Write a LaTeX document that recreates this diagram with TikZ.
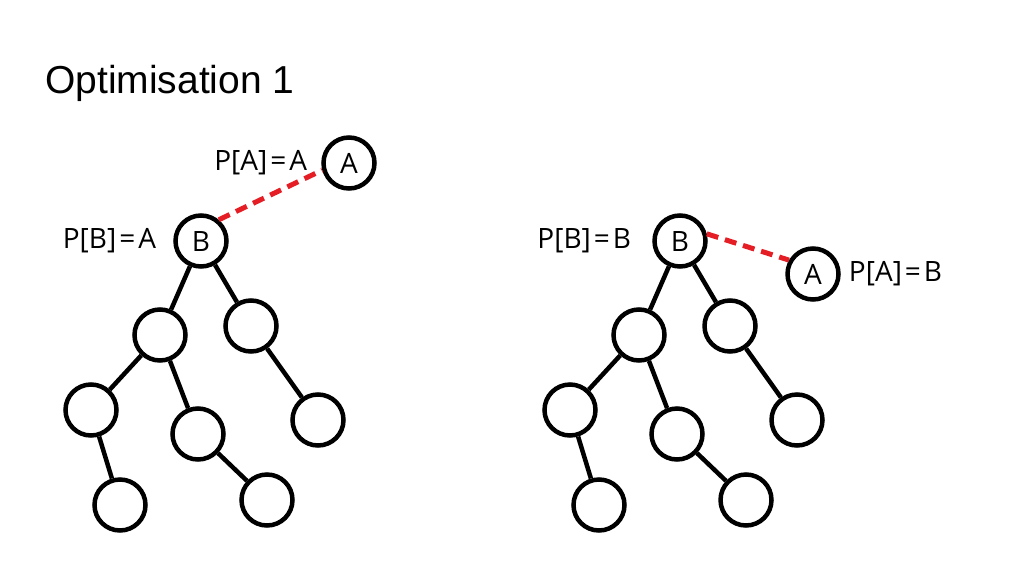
\documentclass[tikz,border=0pt]{standalone}
\usepackage{fontspec}
\setmainfont{Open Sans}
\newfontfamily\titlefont{Liberation Sans}
\usetikzlibrary{positioning}
\definecolor{linkred}{RGB}{228,30,36}
\newcommand{\eqs}{\kern3pt=\kern3pt}
\tikzset{
  vertex/.style={circle, draw=black, line width=4.5pt, fill=white,
    minimum size=51pt, inner sep=0pt, font=\fontsize{28}{28}\selectfont},
  tedge/.style={line width=4.5pt},
  parentlink/.style={draw=linkred, line width=5pt, dash pattern=on 12pt off 7pt},
  plabel/.style={inner sep=0pt, font=\fontsize{28}{28}\selectfont},
  titletext/.style={anchor=base west, inner sep=0pt,
    font=\titlefont\fontsize{39}{39}\selectfont},
}

\begin{document}
\begin{tikzpicture}[x=1pt, y=-1pt]
  \useasboundingbox (0,0) rectangle (1024,576);

  % Title
  \node[titletext] (title) at (45,93) {Optimisation 1};

  % Left tree: B points to A
  \node[vertex] (lA) at (349,163) {A};
  \node[vertex] (lB) at (201,241) {B};
  \node[vertex] (l1) at (160,335) {};
  \node[vertex] (l2) at (251,326) {};
  \node[vertex] (l3) at (91,410) {};
  \node[vertex] (l4) at (198,434) {};
  \node[vertex] (l5) at (318,420) {};
  \node[vertex] (l6) at (120,505) {};
  \node[vertex] (l7) at (267,500) {};

  \node[plabel, left=14pt of lA] (lAlab) {P[A]\eqs A};
  \node[plabel, left=17pt of lB] (lBlab) {P[B]\eqs A};

  \draw[tedge] (lB) -- (l1);
  \draw[tedge] (lB) -- (l2);
  \draw[tedge] (l1) -- (l3);
  \draw[tedge] (l1) -- (l4);
  \draw[tedge] (l2) -- (l5);
  \draw[tedge] (l3) -- (l6);
  \draw[tedge] (l4) -- (l7);
  \draw[parentlink] (lB.50) -- (lA.195);

  % Right tree: A now points to B
  \node[vertex] (rB) at (680,241) {B};
  \node[vertex] (rA) at (813,274) {A};
  \node[vertex] (r1) at (639,335) {};
  \node[vertex] (r2) at (730,326) {};
  \node[vertex] (r3) at (570,410) {};
  \node[vertex] (r4) at (677,434) {};
  \node[vertex] (r5) at (797,420) {};
  \node[vertex] (r6) at (599,505) {};
  \node[vertex] (r7) at (746,500) {};

  \node[plabel, left=21pt of rB] (rBlab) {P[B]\eqs B};
  \node[plabel, right=8pt of rA] (rAlab) {P[A]\eqs B};

  \draw[tedge] (rB) -- (r1);
  \draw[tedge] (rB) -- (r2);
  \draw[tedge] (r1) -- (r3);
  \draw[tedge] (r1) -- (r4);
  \draw[tedge] (r2) -- (r5);
  \draw[tedge] (r3) -- (r6);
  \draw[tedge] (r4) -- (r7);
  \draw[parentlink] (rB.15) -- (rA.150);

\end{tikzpicture}
\end{document}
